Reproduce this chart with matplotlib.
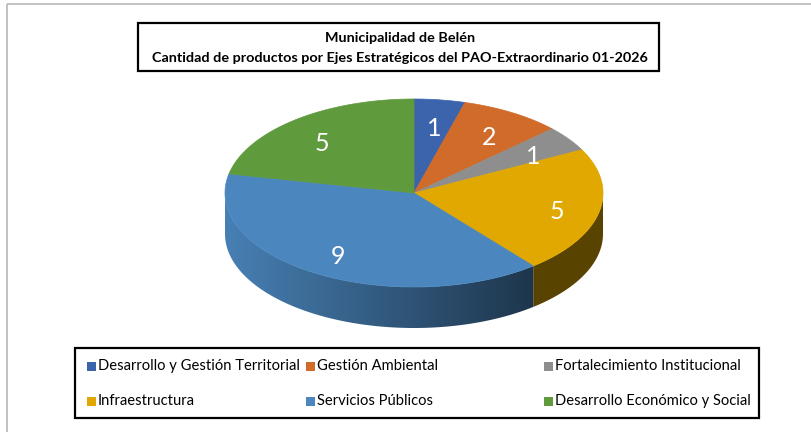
import numpy as np
import matplotlib
matplotlib.use("Agg")
import matplotlib.pyplot as plt
from matplotlib.patches import Polygon, Rectangle
from matplotlib.colors import to_rgb

plt.rcParams['font.family'] = ['Lato', 'DejaVu Sans']

# ---- data ----
title_lines = ["Municipalidad de Belén",
               "Cantidad de productos por Ejes Estratégicos del PAO-Extraordinario 01-2026"]
categories = ["Desarrollo y Gestión Territorial", "Gestión Ambiental",
              "Fortalecimiento Institucional", "Infraestructura",
              "Servicios Públicos", "Desarrollo Económico y Social"]
values = [1, 2, 1, 5, 9, 5]
colors = ["#3b64ad", "#d16b29", "#8e8e8e", "#e0a800", "#4b87be", "#5f9a3d"]

# ---- figure ----
W, H = 812, 432
fig = plt.figure(figsize=(W / 100, H / 100), dpi=100)
ax = fig.add_axes([0, 0, 1, 1])
ax.set_xlim(0, W)
ax.set_ylim(H, 0)
ax.axis('off')

# outer frame (top + left)
ax.plot([7, W], [4, 4], color="#b8b8b8", lw=1.2, solid_capstyle='butt')
ax.plot([7, 7], [4, H], color="#b8b8b8", lw=1.2, solid_capstyle='butt')

# title box
ax.add_patch(Rectangle((138, 23), 521, 48, fill=False, ec="black", lw=1.6))
ax.text(400, 38, title_lines[0], ha='center', va='center', fontsize=10.4,
        fontweight='bold')
ax.text(400, 58, title_lines[1], ha='center', va='center', fontsize=10.4,
        fontweight='bold')

# ---- 3D pie geometry ----
cx, cy, rx, ry, depth = 414, 193, 189, 94, 41
total = sum(values)
bounds = [90.0]
for v in values:
    bounds.append(bounds[-1] - 360.0 * v / total)


def pt(a_deg):
    a = np.asarray(np.radians(a_deg))
    return cx + rx * np.cos(a), cy - ry * np.sin(a)


def shade(c, f):
    r, g, b = to_rgb(c)
    return np.array([r * f, g * f, b * f])


xs_grad = np.linspace(cx - rx - 2, cx + rx + 2, 400)
fgrad = np.clip(0.95 - 0.55 * (xs_grad - (cx - rx)) / 308.0, 0.4, 1.0)

# side walls (visible front half)
for i, v in enumerate(values):
    a0, a1 = bounds[i], bounds[i + 1]
    for off in (0, -360, 360):
        s0, s1 = a0 + off, a1 + off
        lo, hi = max(s1, -180), min(s0, 0)
        if hi > lo:
            angs = np.linspace(hi, lo, 200)
            xa, ya = pt(angs)
            poly = list(zip(xa, ya)) + list(zip(xa[::-1], ya[::-1] + depth))
            patch = Polygon(poly, closed=True, fc='none', ec='none')
            ax.add_patch(patch)
            img = np.array([[shade(colors[i], f) for f in fgrad]])
            im = ax.imshow(img, extent=(xs_grad[0], xs_grad[-1],
                                        cy + ry + depth + 2, cy - ry - 2),
                           aspect='auto', interpolation='bilinear', zorder=1)
            im.set_clip_path(patch)

# top faces
for i, v in enumerate(values):
    a0, a1 = bounds[i], bounds[i + 1]
    angs = np.linspace(a0, a1, 200)
    xa, ya = pt(angs)
    pts = [(cx, cy)] + list(zip(xa, ya))
    ax.add_patch(Polygon(pts, closed=True, fc=colors[i], ec=colors[i],
                         lw=0.5, zorder=2))

# labels
for i, v in enumerate(values):
    mid = 0.5 * (bounds[i] + bounds[i + 1])
    a = np.radians(mid)
    x = cx + 0.77 * rx * np.cos(a)
    y = cy - 0.74 * ry * np.sin(a) + 4
    ax.text(x, y, str(v), color='white', fontsize=18, ha='center',
            va='center', zorder=3)

# ---- legend ----
ax.add_patch(Rectangle((75, 348), 684, 70, fill=False, ec="black", lw=1.6))
col_x = [87, 306, 544]
row_y = [366, 401]
for i, name in enumerate(categories):
    x = col_x[i % 3]
    y = row_y[i // 3]
    ax.add_patch(Rectangle((x, y - 4.5), 9, 9, fc=colors[i], ec='none'))
    ax.text(x + 11, y, name, fontsize=10.6, ha='left', va='center')

ax.set_xlim(0, W)
ax.set_ylim(H, 0)
fig.savefig("out.png", dpi=100)
